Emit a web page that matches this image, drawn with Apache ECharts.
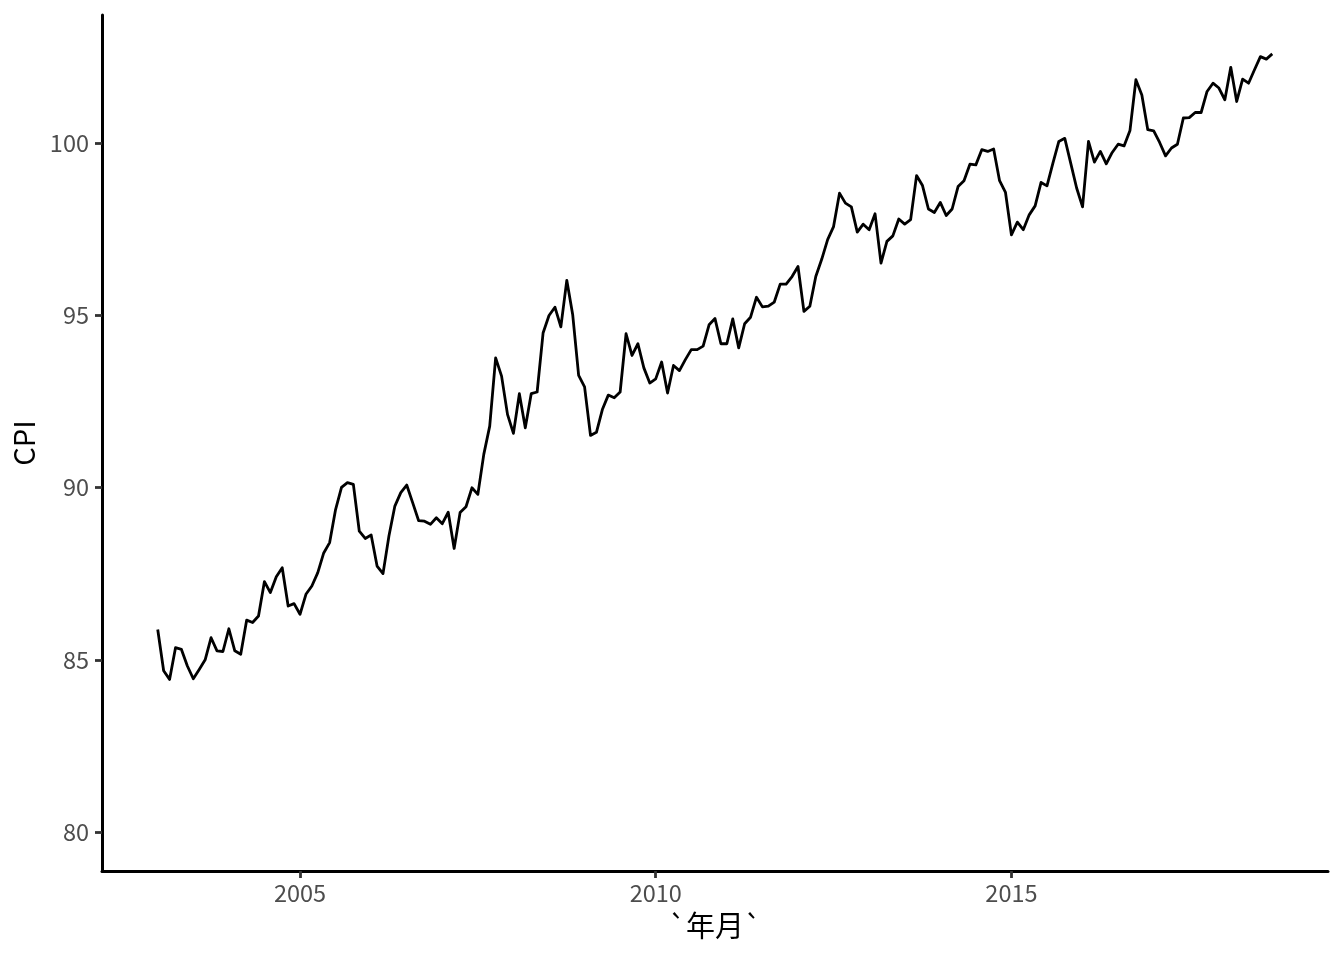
<!DOCTYPE html>
<html>
<head>
<meta charset="utf-8">
<script src="https://cdn.jsdelivr.net/npm/echarts@6/dist/echarts.min.js"></script>
<style>
html, body { margin: 0; padding: 0; background: #ffffff; }
#chart { width: 1344px; height: 960px; }
</style>
</head>
<body>
<div id="chart"></div>
<script>
// Monthly series: Jan 2003 .. Sep 2018
const startYear = 2003;
const startMonth = 1;
const cpi = [
  85.88, 84.68, 84.43, 85.35, 85.30, 84.82, 84.45, 84.72, 85.00, 85.64, 85.26, 85.24,
  85.90, 85.26, 85.16, 86.15, 86.08, 86.27, 87.27, 86.95, 87.41, 87.67, 86.56, 86.63,
  86.32, 86.90, 87.14, 87.53, 88.10, 88.40, 89.36, 90.00, 90.14, 90.09, 88.73, 88.52,
  88.62, 87.72, 87.50, 88.59, 89.46, 89.85, 90.07, 89.56, 89.04, 89.02, 88.93, 89.12,
  88.95, 89.28, 88.23, 89.27, 89.44, 89.99, 89.80, 90.96, 91.78, 93.76, 93.23, 92.12,
  91.57, 92.72, 91.73, 92.72, 92.77, 94.48, 94.99, 95.23, 94.66, 96.01, 95.01, 93.25,
  92.92, 91.51, 91.60, 92.26, 92.68, 92.60, 92.77, 94.46, 93.83, 94.17, 93.47, 93.03,
  93.15, 93.64, 92.74, 93.54, 93.39, 93.71, 94.00, 94.00, 94.10, 94.72, 94.90, 94.17,
  94.17, 94.89, 94.05, 94.75, 94.94, 95.52, 95.24, 95.26, 95.38, 95.90, 95.90, 96.12,
  96.41, 95.11, 95.26, 96.12, 96.62, 97.19, 97.57, 98.54, 98.25, 98.14, 97.41, 97.64,
  97.48, 97.94, 96.51, 97.14, 97.30, 97.79, 97.64, 97.77, 99.05, 98.76, 98.08, 97.98,
  98.27, 97.89, 98.08, 98.73, 98.90, 99.38, 99.36, 99.80, 99.75, 99.82, 98.90, 98.56,
  97.33, 97.70, 97.48, 97.91, 98.17, 98.85, 98.75, 99.41, 100.04, 100.13, 99.41, 98.69,
  98.14, 100.04, 99.44, 99.75, 99.39, 99.72, 99.96, 99.91, 100.36, 101.83, 101.39, 100.38,
  100.35, 100.01, 99.62, 99.85, 99.96, 100.72, 100.73, 100.88, 100.88, 101.49, 101.73, 101.59,
  101.25, 102.19, 101.20, 101.85, 101.73, 102.12, 102.50, 102.43, 102.58
];
const xTicks = [2005, 2010, 2015];
const yTicks = [80, 85, 90, 95, 100];
const xTitle = '`年月`';
const yTitle = 'CPI';

// axis limits (ggplot-like 5% expansion)
const xMin = 2002.2167, xMax = 2019.45;
const yMin = 78.871, yMax = 103.709;

const seriesData = cpi.map((v, i) => {
  const m = startMonth - 1 + i;
  const t = startYear + Math.floor(m / 12) + (m % 12) / 12;
  return [t, v];
});

const FONT = '"Noto Sans CJK SC", "Noto Sans", sans-serif';
const chart = echarts.init(document.getElementById('chart'), null, { renderer: 'canvas' });
chart.setOption({
  animation: false,
  backgroundColor: '#ffffff',
  grid: { left: 102, right: 16, top: 15, bottom: 89, containLabel: false },
  xAxis: {
    type: 'value',
    min: xMin, max: xMax,
    name: xTitle,
    nameLocation: 'middle',
    nameGap: 40,
    nameTextStyle: { color: '#000000', fontSize: 29, fontFamily: FONT },
    axisLine: { show: true, lineStyle: { color: '#000000', width: 3 } },
    axisTick: { show: true, customValues: xTicks, length: 7, lineStyle: { color: '#333333', width: 2.8 } },
    axisLabel: { customValues: xTicks, color: '#4D4D4D', fontSize: 23.5, fontFamily: FONT, margin: 10,
                 formatter: v => String(Math.round(v)) },
    splitLine: { show: false }
  },
  yAxis: {
    type: 'value',
    min: yMin, max: yMax,
    name: yTitle,
    nameLocation: 'middle',
    nameGap: 61,
    nameRotate: 90,
    nameTextStyle: { color: '#000000', fontSize: 29, fontFamily: FONT },
    axisLine: { show: true, lineStyle: { color: '#000000', width: 3 } },
    axisTick: { show: true, customValues: yTicks, length: 7, lineStyle: { color: '#333333', width: 2.8 } },
    axisLabel: { customValues: yTicks, color: '#4D4D4D', fontSize: 23.5, fontFamily: FONT, margin: 13,
                 formatter: v => String(Math.round(v)) },
    splitLine: { show: false }
  },
  series: [{
    type: 'line',
    data: seriesData,
    showSymbol: false,
    symbol: 'none',
    lineStyle: { color: '#000000', width: 2.8, join: 'round' },
    silent: true
  }]
});
</script>
</body>
</html>
